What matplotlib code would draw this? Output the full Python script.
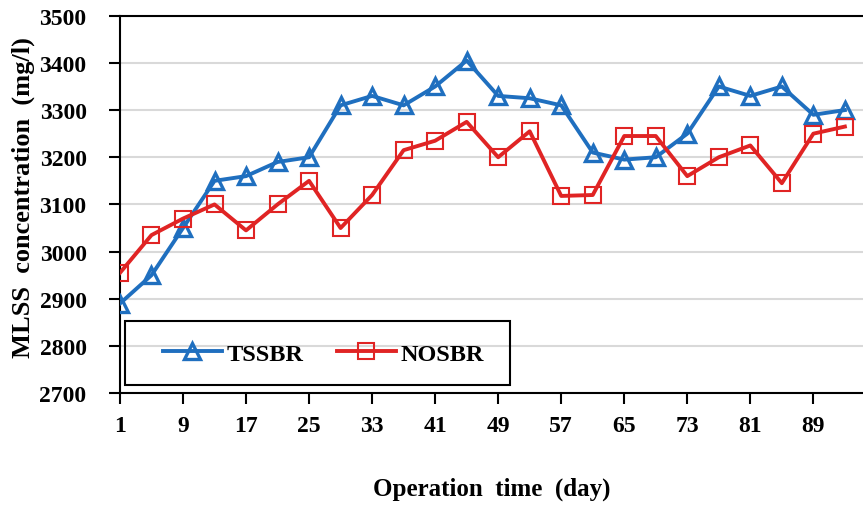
import numpy as np
import matplotlib
matplotlib.use("Agg")
import matplotlib.pyplot as plt
from matplotlib.patches import Rectangle

# operation days (every 4 days)
days = [1, 5, 9, 13, 17, 21, 25, 29, 33, 37, 41, 45,
        49, 53, 57, 61, 65, 69, 73, 77, 81, 85, 89, 93]

tssbr = [2890, 2950, 3050, 3150, 3160, 3190, 3200, 3310, 3330, 3310, 3350, 3405,
         3330, 3325, 3310, 3210, 3195, 3200, 3250, 3350, 3330, 3350, 3290, 3300]

nosbr = [2955, 3035, 3070, 3100, 3045, 3100, 3150, 3050, 3120, 3215, 3235, 3275,
         3200, 3255, 3118, 3120, 3245, 3245, 3160, 3200, 3225, 3145, 3250, 3265]

xticks = [1, 9, 17, 25, 33, 41, 49, 57, 65, 73, 81, 89]
yticks = [2700, 2800, 2900, 3000, 3100, 3200, 3300, 3400, 3500]

plt.rcParams['font.family'] = 'Liberation Serif'
plt.rcParams['font.weight'] = 'bold'

fig = plt.figure(figsize=(8.63, 5.06), dpi=100)
ax = fig.add_axes([0.139, 0.221, 0.861, 0.746])

ax.plot(days, tssbr, color='#1F6FBF', lw=2.8, marker='^', ms=12,
        mfc='none', mec='#1F6FBF', mew=2.4, label='TSSBR', zorder=3)
ax.plot(days, nosbr, color='#E02424', lw=2.8, marker='s', ms=11,
        mfc='none', mec='#E02424', mew=1.5, label='NOSBR', zorder=3)

ax.set_xlim(1, 95.3)
ax.set_ylim(2700, 3500)
ax.set_xticks(xticks)
ax.set_yticks(yticks)
ax.yaxis.grid(True, color='#D9D9D9', lw=1.5)
ax.set_axisbelow(True)

for s in ['left', 'bottom', 'top']:
    ax.spines[s].set_linewidth(1.5)
    ax.spines[s].set_color('black')
ax.spines['right'].set_visible(False)

ax.tick_params(axis='both', direction='out', length=8, width=1.5, labelsize=17)
ax.tick_params(axis='x', pad=8)
ax.tick_params(axis='y', pad=16)

ax.set_xlabel('Operation  time  (day)', fontsize=18, fontweight='bold', labelpad=29)
ax.set_ylabel('MLSS  concentration  (mg/l)', fontsize=19, fontweight='bold', labelpad=3)
ax.yaxis.label.set_y(0.52)

# legend box
ax.add_patch(Rectangle((0.0067, 0.022), 0.518, 0.17, transform=ax.transAxes,
                       fill=False, edgecolor='black', lw=1.5, zorder=4))
leg = ax.legend(loc='center', bbox_to_anchor=(0.274, 0.104), ncol=2, fontsize=17.5,
                frameon=False, handlelength=2.4, handletextpad=0.2,
                columnspacing=1.4, borderaxespad=0)

plt.savefig('out.png', dpi=100)
